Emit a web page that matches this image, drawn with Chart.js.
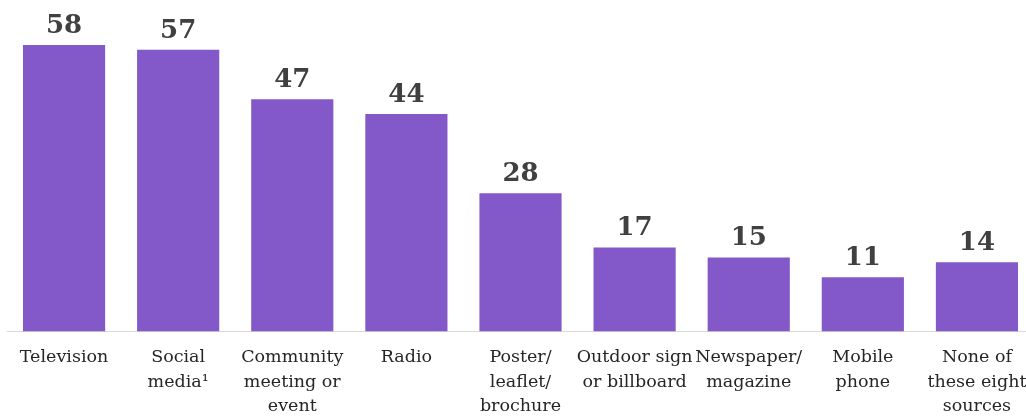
<!DOCTYPE html>
<html>
<head>
<meta charset="utf-8">
<script src="https://cdn.jsdelivr.net/npm/chart.js@4/dist/chart.umd.min.js"></script>
<style>
  html, body { margin: 0; padding: 0; background: #ffffff; overflow: hidden; }
  #wrap { width: 1042px; height: 425px; }
</style>
</head>
<body>
<div id="wrap"><canvas id="c" width="1042" height="425"></canvas></div>
<script>
// Information sources, share of respondents (%)
const categories = [
  ["Television"],
  ["Social", "media\u00B9"],
  ["Community", "meeting or", "event"],
  ["Radio"],
  ["Poster/", "leaflet/", "brochure"],
  ["Outdoor sign", "or billboard"],
  ["Newspaper/", "magazine"],
  ["Mobile", "phone"],
  ["None of", "these eight", "sources"]
];
const shares = [58, 57, 47, 44, 28, 17, 15, 11, 14];

const barColor = "#8358C8";
const labelColor = "#404040";

// Draws each bar's value just above its top
const valueLabels = {
  id: "valueLabels",
  afterDatasetsDraw(chart) {
    const ctx = chart.ctx;
    const meta = chart.getDatasetMeta(0);
    ctx.save();
    ctx.font = "bold 26px 'DejaVu Serif'";
    ctx.fillStyle = labelColor;
    ctx.textAlign = "center";
    ctx.textBaseline = "alphabetic";
    meta.data.forEach((bar, i) => {
      ctx.fillText(String(chart.data.datasets[0].data[i]), bar.x, bar.y - 12);
    });
    ctx.restore();
  }
};

new Chart(document.getElementById("c"), {
  type: "bar",
  data: {
    labels: categories,
    datasets: [{
      data: shares,
      backgroundColor: barColor,
      borderWidth: 0,
      barPercentage: 0.72,
      categoryPercentage: 1.0
    }]
  },
  options: {
    responsive: false,
    animation: false,
    layout: { padding: { left: 7, right: 8, top: 35, bottom: 0 } },
    plugins: {
      legend: { display: false },
      tooltip: { enabled: false }
    },
    scales: {
      x: {
        grid: { display: false },
        border: { display: true, color: "#d9d9d9", width: 1 },
        ticks: {
          color: "#262626",
          font: { family: "'DejaVu Serif'", size: 17.5, lineHeight: 1.4 },
          maxRotation: 0,
          autoSkip: false,
          padding: 6
        }
      },
      y: {
        display: false,
        min: 0,
        max: 60
      }
    }
  },
  plugins: [valueLabels]
});
</script>
</body>
</html>
